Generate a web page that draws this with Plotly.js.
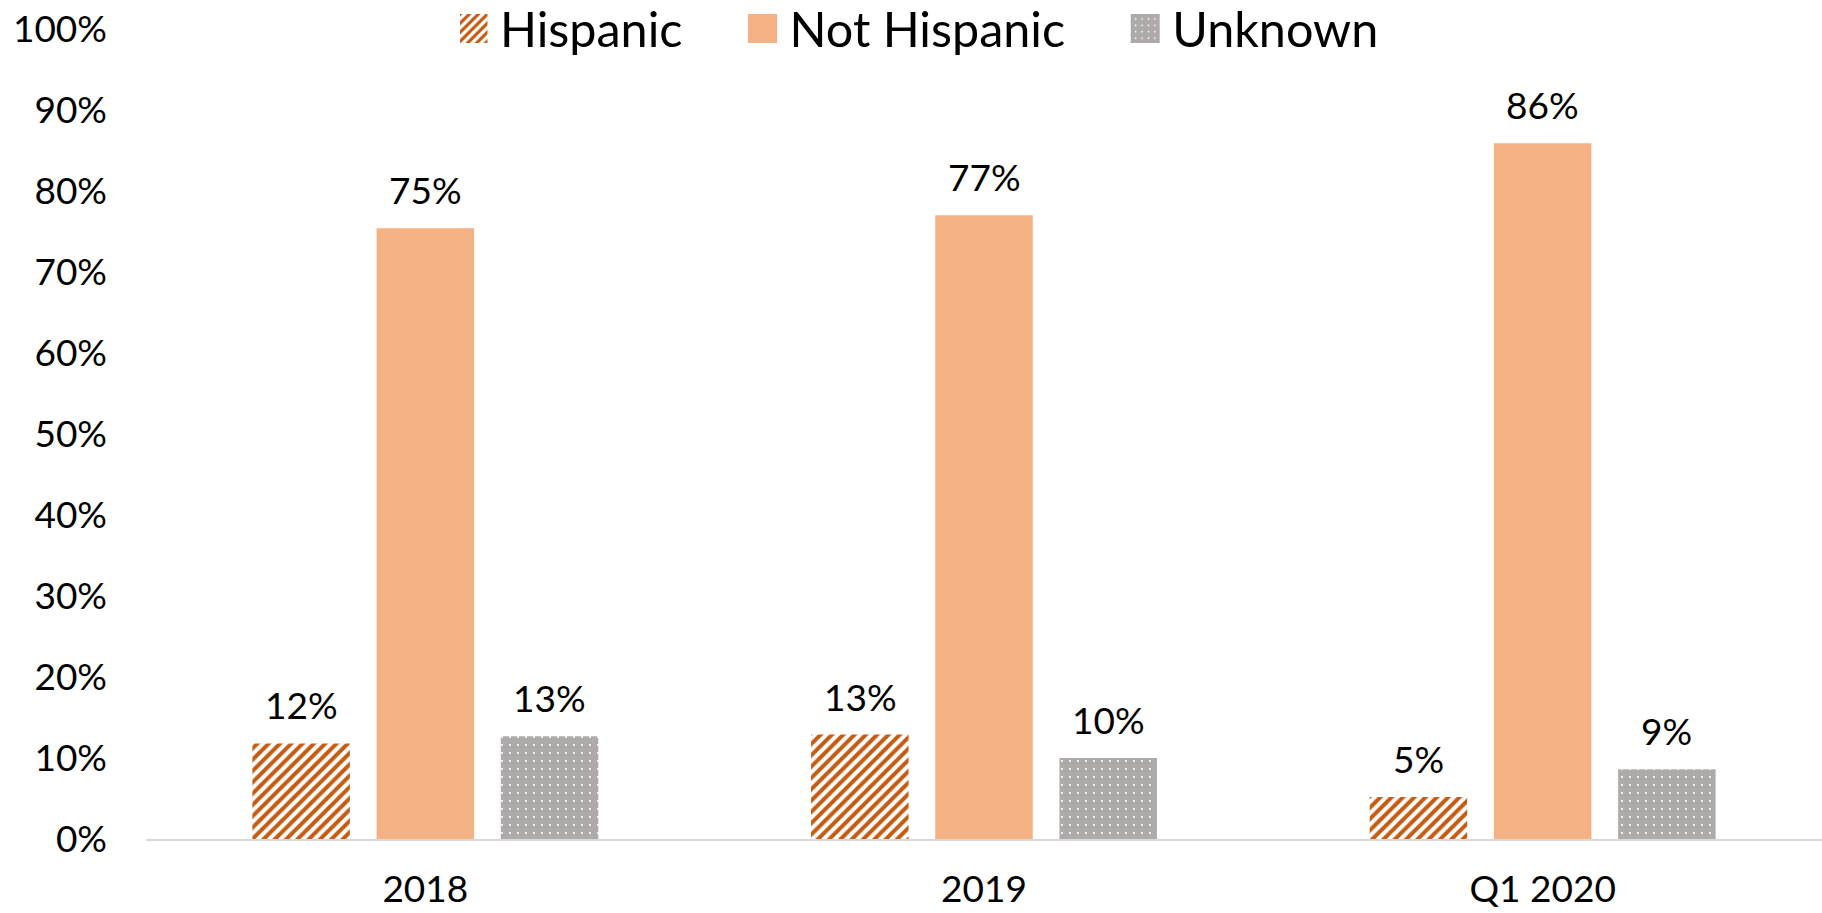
<!DOCTYPE html>
<html>
<head>
<meta charset="utf-8">
<script src="https://cdn.plot.ly/plotly-3.0.1.min.js"></script>
<style>html,body{margin:0;padding:0;background:#fff;}#chart{width:1822px;height:913px;}</style>
</head>
<body>
<div id="chart"></div>
<script>
const categories = ['2018', '2019', 'Q1 2020'];
const hispanic = [11.8, 12.9, 5.2];
const notHispanic = [75.4, 77.0, 85.9];
const unknown = [12.7, 10.0, 8.6];
const seriesNames = ['Hispanic', 'Not Hispanic', 'Unknown'];

const FONT = 'Lato, "Open Sans", sans-serif';
const PAD = '\u00a0\u00a0\u00a0\u00a0\u00a0';

const traces = [
  {
    type: 'bar', name: seriesNames[0] + PAD, x: categories, y: hispanic,
    marker: { color: '#C55A11', line: { width: 0 },
      pattern: { shape: '/', fgcolor: '#C55A11', bgcolor: '#FFFFFF', size: 8, solidity: 0.5 } },
    hoverinfo: 'skip'
  },
  {
    type: 'bar', name: seriesNames[1] + PAD, x: categories, y: notHispanic,
    marker: { color: '#F4B183', line: { width: 0 } },
    hoverinfo: 'skip'
  },
  {
    type: 'bar', name: seriesNames[2], x: categories, y: unknown,
    marker: { color: '#AEAAAA', line: { width: 0 },
      pattern: { shape: '.', fgcolor: '#FFFFFF', bgcolor: '#AEAAAA', size: 8, solidity: 0.06 } },
    hoverinfo: 'skip'
  }
];

// data labels, placed through the category (index) / value axes
const slotShift = [-124, 0, 124];
const annotations = [];
[hispanic, notHispanic, unknown].forEach((vals, s) => {
  vals.forEach((v, i) => {
    annotations.push({
      x: i, y: v, xref: 'x', yref: 'y',
      text: Math.round(v) + '%', showarrow: false,
      xanchor: 'center', yanchor: 'bottom',
      xshift: slotShift[s], yshift: 14,
      font: { family: FONT, size: 37, color: '#000000' }
    });
  });
});

const layout = {
  width: 1822, height: 913,
  margin: { l: 146, r: 0, t: 29, b: 74, pad: 0, autoexpand: false },
  paper_bgcolor: '#FFFFFF', plot_bgcolor: '#FFFFFF',
  font: { family: FONT, size: 37, color: '#000000' },
  barmode: 'group', bargap: 0.333, bargroupgap: 0.215,
  showlegend: true,
  legend: {
    orientation: 'h', x: 0.463, xanchor: 'center', y: 1.0, yanchor: 'middle',
    font: { family: FONT, size: 48.5, color: '#000000' },
    bgcolor: 'rgba(0,0,0,0)', traceorder: 'normal'
  },
  xaxis: {
    type: 'category', categoryorder: 'array', categoryarray: categories,
    range: [-0.5, categories.length - 0.5],
    showgrid: false, zeroline: false,
    showline: true, linecolor: '#D9D9D9', linewidth: 2,
    ticks: '', ticklabelstandoff: 17,
    tickfont: { family: FONT, size: 37, color: '#000000' }
  },
  yaxis: {
    range: [0, 100], dtick: 10, tick0: 0, ticksuffix: '%',
    showgrid: false, zeroline: false, showline: false,
    ticks: '', ticklabelstandoff: 38,
    tickfont: { family: FONT, size: 37, color: '#000000' }
  },
  annotations: annotations
};

Plotly.newPlot('chart', traces, layout, { displayModeBar: false, staticPlot: true }).then(gd => {
  // enlarge the legend swatches to match the reference's square keys
  gd.querySelectorAll('.legend .legendpoints path').forEach(p => {
    p.setAttribute('d', 'M14.5,14.5H-14.5V-14.5H14.5Z');
    p.setAttribute('transform', 'translate(13,0)');
  });
});
</script>
</body>
</html>
